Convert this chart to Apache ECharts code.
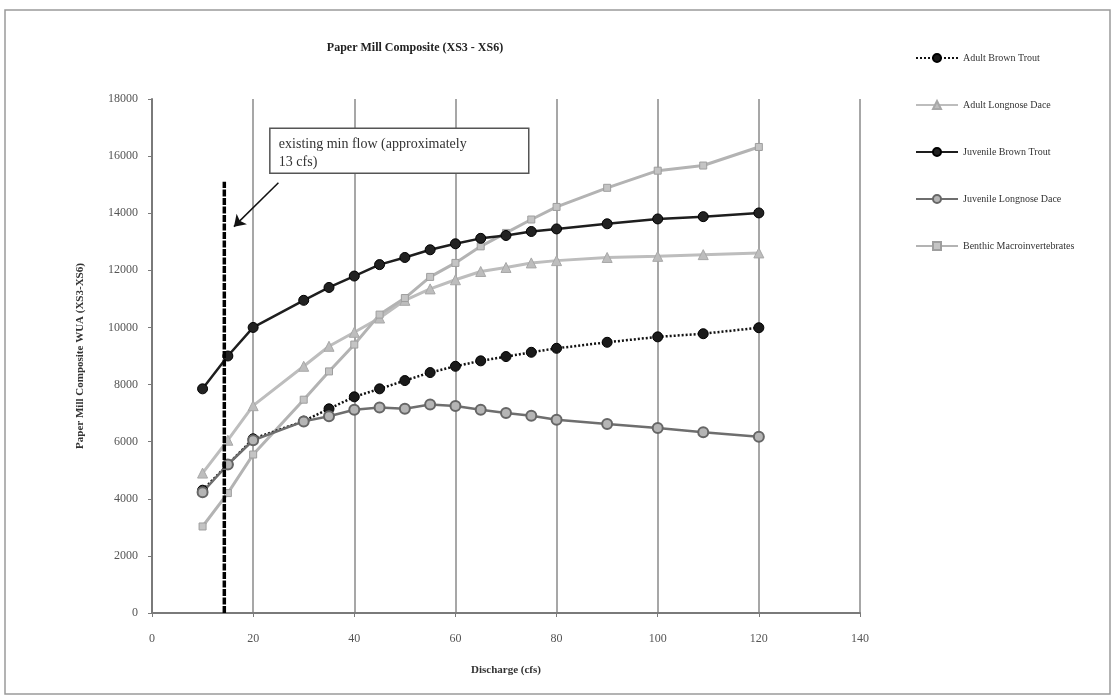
<!DOCTYPE html>
<html>
<head>
<meta charset="utf-8">
<style>
html,body{margin:0;padding:0;background:#fff;}
#chart{width:1115px;height:698px;}
</style>
<script src="https://cdn.jsdelivr.net/npm/echarts@6/dist/echarts.min.js"></script>
</head>
<body>
<div id="chart"></div>
<script>
// ---- data ----
const discharge = [10,15,20,30,35,40,45,50,55,60,65,70,75,80,90,100,109,120];
const adultBrownTrout = [4300,5200,6100,6720,7150,7570,7850,8140,8420,8640,8830,8980,9130,9270,9480,9670,9780,9990];
const adultLongnoseDace = [4900,6050,7260,8640,9340,9830,10330,10950,11350,11670,11960,12100,12260,12340,12450,12490,12550,12610];
const juvenileBrownTrout = [7850,9000,10000,10950,11400,11800,12200,12450,12720,12930,13120,13220,13360,13450,13630,13800,13880,14010];
const juvenileLongnoseDace = [4230,5200,6050,6710,6890,7120,7200,7150,7300,7250,7120,7000,6910,6770,6620,6480,6330,6170];
const benthicMacro = [3030,4200,5550,7470,8460,9400,10450,11030,11770,12260,12840,13310,13780,14220,14890,15490,15670,16320];
const seriesNames = ['Adult Brown Trout','Adult Longnose Dace','Juvenile Brown Trout','Juvenile Longnose Dace','Benthic Macroinvertebrates'];
const minFlowX = 14.3;
const minFlowTop = 15100;
const arrowFrom = [25, 15070];
const arrowTo = [16.2, 13530];
const annotationText = 'existing min flow (approximately\n13 cfs)';
const xTicks = {min:0, max:140, interval:20};
const yTicks = {min:0, max:18000, interval:2000};

const pair = arr => arr.map((v,i)=>[discharge[i], v]);
const serif = '"Liberation Serif","DejaVu Serif",serif';

const chart = echarts.init(document.getElementById('chart'));
const option = {
  backgroundColor:'#fff',
  animation:false,
  textStyle:{fontFamily:serif},
  title:{
    text:'Paper Mill Composite (XS3 - XS6)',
    left:410, top:37, textAlign:'center',
    textStyle:{fontFamily:serif, fontSize:12, fontWeight:'bold', color:'#222'}
  },
  legend:{
    orient:'vertical', left:910, top:48,
    itemWidth:42, itemHeight:10, itemGap:37,
    textStyle:{fontFamily:serif, fontSize:10, color:'#333'},
    data:seriesNames
  },
  grid:{left:152, right:255, top:99, bottom:85, containLabel:false},
  xAxis:{
    type:'value', min:xTicks.min, max:xTicks.max, interval:xTicks.interval,
    name:'Discharge (cfs)', nameLocation:'middle', nameGap:52,
    nameTextStyle:{fontFamily:serif, fontSize:11, fontWeight:'bold', color:'#333'},
    axisLine:{lineStyle:{color:'#7a7a7a', width:2}},
    axisTick:{show:true, length:4, lineStyle:{color:'#7a7a7a'}},
    axisLabel:{fontFamily:serif, fontSize:12, color:'#555', margin:20},
    splitLine:{show:true, lineStyle:{color:'#8a8a8a', width:1.5}}
  },
  yAxis:{
    type:'value', min:yTicks.min, max:yTicks.max, interval:yTicks.interval,
    name:'Paper Mill Composite WUA (XS3-XS6)', nameLocation:'middle', nameGap:66,
    nameTextStyle:{fontFamily:serif, fontSize:11, fontWeight:'bold', color:'#333'},
    axisLine:{show:true, lineStyle:{color:'#7a7a7a', width:2}},
    axisTick:{show:true, length:4, lineStyle:{color:'#7a7a7a'}},
    axisLabel:{fontFamily:serif, fontSize:12, color:'#555', margin:14, formatter:v=>String(v)},
    splitLine:{show:false}
  },
  series:[
    {
      name:seriesNames[0], type:'line', data:pair(adultBrownTrout), z:4,
      symbol:'circle', symbolSize:10,
      lineStyle:{color:'#111', width:2.5, type:[2,2]},
      itemStyle:{color:'#1a1a1a', borderColor:'#000', borderWidth:1}
    },
    {
      name:seriesNames[1], type:'line', data:pair(adultLongnoseDace), z:3,
      symbol:'triangle', symbolSize:10,
      lineStyle:{color:'#bdbdbd', width:3},
      itemStyle:{color:'#bdbdbd', borderColor:'#a8a8a8', borderWidth:1}
    },
    {
      name:seriesNames[2], type:'line', data:pair(juvenileBrownTrout), z:5,
      symbol:'circle', symbolSize:10,
      lineStyle:{color:'#1e1e1e', width:2.5},
      itemStyle:{color:'#222', borderColor:'#000', borderWidth:1}
    },
    {
      name:seriesNames[3], type:'line', data:pair(juvenileLongnoseDace), z:4,
      symbol:'circle', symbolSize:10,
      lineStyle:{color:'#6e6e6e', width:2.5},
      itemStyle:{color:'#b5b5b5', borderColor:'#666', borderWidth:2}
    },
    {
      name:seriesNames[4], type:'line', data:pair(benthicMacro), z:3,
      symbol:'rect', symbolSize:7,
      lineStyle:{color:'#b3b3b3', width:3},
      itemStyle:{color:'#c4c4c4', borderColor:'#9e9e9e', borderWidth:1}
    },
    {
      name:'minflow', type:'line', data:[[minFlowX,0],[minFlowX,minFlowTop]], z:6,
      symbol:'none', silent:true,
      lineStyle:{color:'#000', width:3.5, type:[7,1.5]},
      markLine:{
        silent:true, symbol:['none','arrow'], symbolSize:11,
        label:{show:false},
        lineStyle:{color:'#111', width:1.5, type:'solid'},
        data:[[{coord:arrowFrom},{coord:arrowTo}]]
      }
    }
  ],
  graphic:[
    {type:'rect', shape:{x:5, y:10, width:1105, height:684}, style:{fill:'none', stroke:'#9a9a9a', lineWidth:1.5}, z:-1}
  ]
};
chart.setOption(option);

// annotation box anchored in data coordinates
const boxTL = chart.convertToPixel({gridIndex:0}, [23.3, 16980]);
const boxBR = chart.convertToPixel({gridIndex:0}, [74.5, 15400]);
chart.setOption({
  graphic:[
    {type:'rect', shape:{x:5, y:10, width:1105, height:684}, style:{fill:'none', stroke:'#9a9a9a', lineWidth:1.5}, z:-1},
    {type:'rect', z:10, shape:{x:boxTL[0], y:boxTL[1], width:boxBR[0]-boxTL[0], height:boxBR[1]-boxTL[1]},
     style:{fill:'#fff', stroke:'#555', lineWidth:1.5}},
    {type:'text', z:11, x:boxTL[0]+9, y:boxTL[1]+7,
     style:{text:annotationText, font:'14px "Liberation Serif", serif', fill:'#333', lineHeight:18}}
  ]
});
</script>
</body>
</html>
